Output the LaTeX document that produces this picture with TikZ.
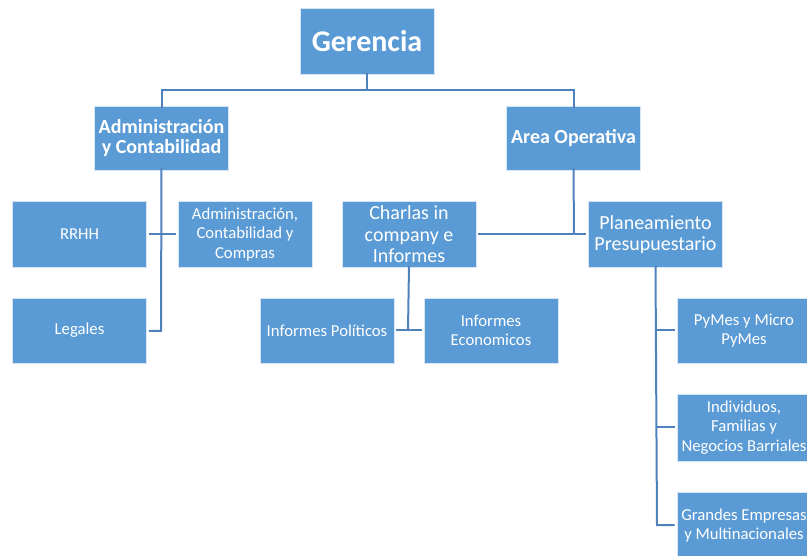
\documentclass[tikz,border=0pt]{standalone}
\usepackage{fontspec}
\setmainfont{Carlito}
\definecolor{boxblue}{HTML}{5B9BD5}
\definecolor{lineblue}{HTML}{4F81BD}
\begin{document}
\begin{tikzpicture}[x=1pt,y=-1pt,
  box/.style={rectangle, fill=boxblue, draw=white!75!boxblue, line width=0.8pt, text=white, align=center, minimum width=134pt, minimum height=66pt, inner sep=1pt},
  small/.style={font=\fontsize{16.7}{19.5}\selectfont},
  mid/.style={font=\fontsize{20}{21.5}\selectfont},
  bigb/.style={font=\fontsize{20}{20}\selectfont\bfseries},
  huge/.style={font=\fontsize{30}{32}\selectfont\bfseries},
  conn/.style={draw=lineblue, line width=2pt}]
\useasboundingbox (0,0) rectangle (807,556);
\clip (0,0) rectangle (807,556);
\node[box, huge] (ger) at (367,41.5) {Gerencia};
\node[box, bigb, minimum height=64pt] (adm) at (161.5,138) {Administración\\y Contabilidad};
\node[box, bigb, minimum height=64pt] (area) at (573.5,138) {Area Operativa};
\node[box, small] (rrhh) at (79.5,234.5) {RRHH};
\node[box, small] (acc) at (245,234.5) {Administración,\\Contabilidad y\\Compras};
\node[box, mid] (charlas) at (409,234.5) {Charlas in\\company e\\Informes};
\node[box, mid] (plan) at (655.5,234.5) {Planeamiento\\Presupuestario};
\node[box, small, minimum height=65pt] (leg) at (79.5,330.5) {Legales};
\node[box, small, minimum height=65pt] (ipol) at (327,330.5) {Informes Políticos};
\node[box, small, minimum height=65pt] (ieco) at (491,330.5) {Informes\\Economicos};
\node[box, small, minimum height=65pt] (pym) at (744,330.5) {PyMes y Micro\\PyMes};
\node[box, small, minimum height=67pt] (ind) at (744,427.5) {Individuos,\\Familias y\\Negocios Barriales};
\node[box, small, minimum height=67pt] (gra) at (744,525.5) {Grandes Empresas\\y Multinacionales};
% level 1
\coordinate (b1) at (367,90);
\draw[conn] ([yshift=2pt]ger.south) -- (b1);
\draw[conn] ([yshift=-2pt]adm.north) -- (adm.north |- b1) -- (area.north |- b1) -- ([yshift=-2pt]area.north);
% admin branch
\coordinate (a1) at (161,331);
\draw[conn] ([yshift=2pt]adm.south) -- (a1) -- ([xshift=2pt]leg.east |- a1);
\draw[conn] ([xshift=2pt]rrhh.east) -- ([xshift=-2pt]acc.west);
% area branch
\coordinate (o1) at (574,234.5);
\draw[conn] ([yshift=2pt]area.south) -- (o1);
\draw[conn] ([xshift=2pt]charlas.east) -- ([xshift=-2pt]plan.west);
% charlas branch
\coordinate (c1) at (408,331);
\draw[conn] ([yshift=2pt]charlas.south) -- (c1);
\draw[conn] ([xshift=2pt]ipol.east) -- ([xshift=-2pt]ieco.west);
% planeamiento branch
\coordinate (p1) at (657,525);
\draw[conn] ([yshift=2pt]plan.south) -- (p1) -- ([xshift=-2pt]gra.west |- p1);
\draw[conn] (p1 |- pym.west) -- ([xshift=-2pt]pym.west);
\draw[conn] (p1 |- ind.west) -- ([xshift=-2pt]ind.west);
\end{tikzpicture}
\end{document}
